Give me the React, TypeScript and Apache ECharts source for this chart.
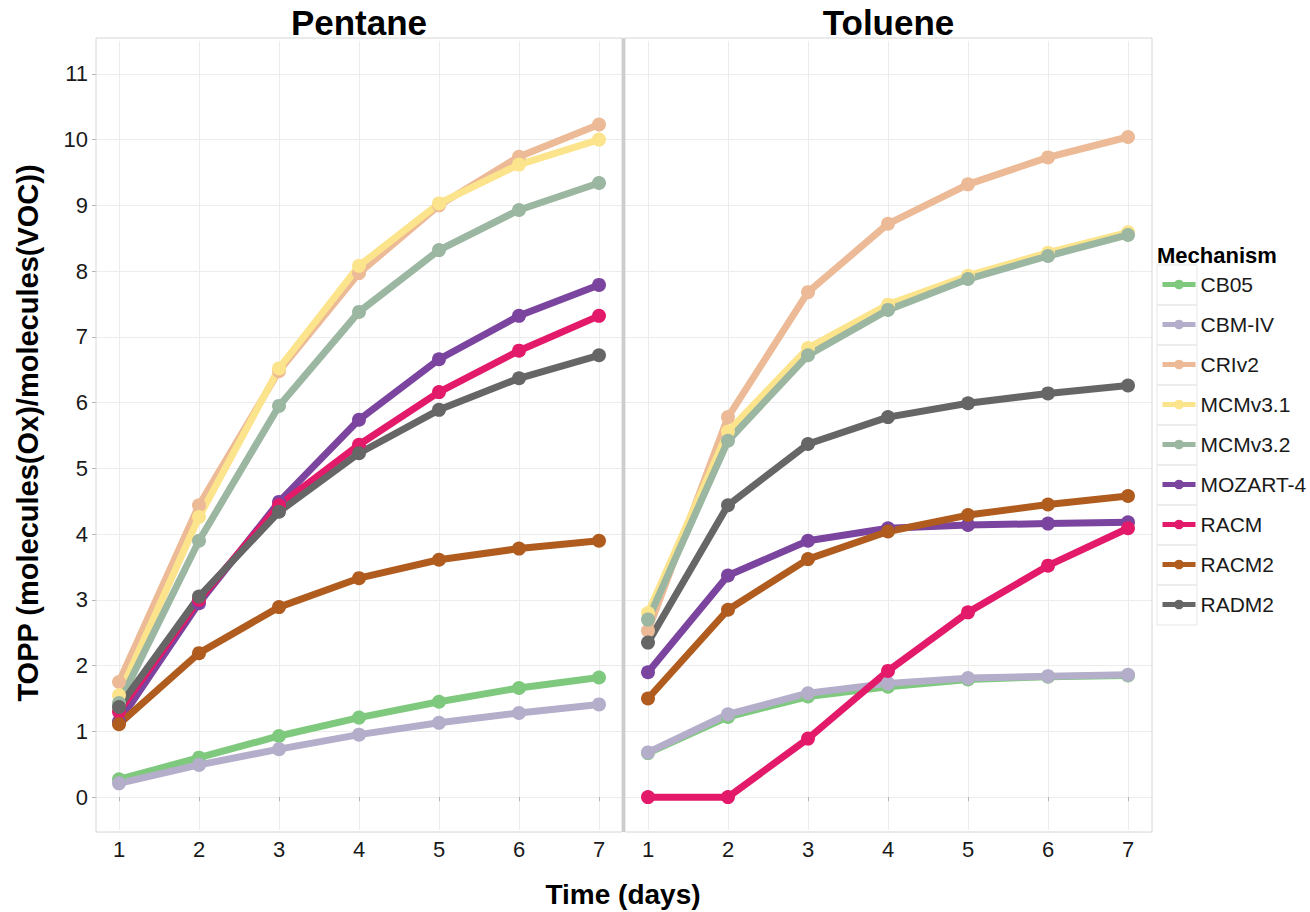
import React, { useEffect, useRef } from "react";
import * as echarts from "echarts";

const days = [1, 2, 3, 4, 5, 6, 7];
const mechanisms = ["CB05", "CBM-IV", "CRIv2", "MCMv3.1", "MCMv3.2", "MOZART-4", "RACM", "RACM2", "RADM2"];
const colors = ["#7FC97F", "#B4AECB", "#ECBA96", "#FCE48C", "#9BB6A1", "#7B449E", "#E31A6A", "#B15C1F", "#666666"];
const panels = ["Pentane", "Toluene"];
const yTicks = [0, 1, 2, 3, 4, 5, 6, 7, 8, 9, 10, 11];
const xTicks = [1, 2, 3, 4, 5, 6, 7];

// Pentane values by mechanism
const pentaneCB05 = [0.27, 0.6, 0.93, 1.21, 1.45, 1.66, 1.82];
const pentaneCBMIV = [0.21, 0.49, 0.73, 0.95, 1.13, 1.28, 1.41];
const pentaneCRIv2 = [1.75, 4.44, 6.48, 7.97, 9.0, 9.74, 10.23];
const pentaneMCMv31 = [1.55, 4.26, 6.52, 8.08, 9.03, 9.62, 10.0];
const pentaneMCMv32 = [1.43, 3.9, 5.95, 7.38, 8.32, 8.93, 9.34];
const pentaneMOZART4 = [1.15, 2.95, 4.49, 5.74, 6.66, 7.32, 7.79];
const pentaneRACM = [1.3, 3.0, 4.44, 5.36, 6.16, 6.79, 7.32];
const pentaneRACM2 = [1.11, 2.19, 2.89, 3.33, 3.61, 3.78, 3.9];
const pentaneRADM2 = [1.37, 3.05, 4.34, 5.23, 5.89, 6.37, 6.72];

// Toluene values by mechanism
const tolueneCB05 = [0.67, 1.22, 1.53, 1.68, 1.79, 1.83, 1.85];
const tolueneCBMIV = [0.68, 1.26, 1.58, 1.73, 1.81, 1.84, 1.86];
const tolueneCRIv2 = [2.53, 5.78, 7.68, 8.72, 9.32, 9.73, 10.04];
const tolueneMCMv31 = [2.8, 5.56, 6.83, 7.49, 7.93, 8.28, 8.59];
const tolueneMCMv32 = [2.7, 5.42, 6.72, 7.41, 7.88, 8.23, 8.55];
const tolueneMOZART4 = [1.9, 3.37, 3.9, 4.09, 4.14, 4.16, 4.18];
const tolueneRACM = [0.0, 0.0, 0.89, 1.92, 2.81, 3.52, 4.09];
const tolueneRACM2 = [1.5, 2.85, 3.62, 4.04, 4.29, 4.45, 4.58];
const tolueneRADM2 = [2.35, 4.44, 5.37, 5.78, 5.99, 6.14, 6.26];

const pentaneData = [pentaneCB05, pentaneCBMIV, pentaneCRIv2, pentaneMCMv31, pentaneMCMv32, pentaneMOZART4, pentaneRACM, pentaneRACM2, pentaneRADM2];
const tolueneData = [tolueneCB05, tolueneCBMIV, tolueneCRIv2, tolueneMCMv31, tolueneMCMv32, tolueneMOZART4, tolueneRACM, tolueneRACM2, tolueneRADM2];

const FONT = "'Liberation Sans', Arial, Helvetica, sans-serif";

export default function App() {
  const ref = useRef<HTMLDivElement>(null);

  useEffect(() => {
    if (!ref.current) return;
    const chart = echarts.init(ref.current, null, { renderer: "svg" });

    const panelBoxes = [
      { left: 96, width: 526 },
      { left: 625, width: 527 },
    ];
    const gridTop = 41;
    const gridHeight = 789;
    const grids: any[] = [];
    const xAxes: any[] = [];
    const yAxes: any[] = [];
    const gridColor = "#ececec";

    panelBoxes.forEach((p, i) => {
      grids.push({ left: p.left, width: p.width, top: gridTop, height: gridHeight });
      xAxes.push({ type: "value", gridIndex: i * 2, min: 0, max: 1, show: false });
      yAxes.push({
        type: "value",
        gridIndex: i * 2,
        min: -0.5,
        max: 11.5,
        interval: 0.5,
        axisLine: { show: false },
        axisTick: { show: i === 0, length: 4, lineStyle: { color: "#b3b3b3" }, customValues: yTicks },
        axisLabel: {
          show: i === 0,
          fontSize: 22,
          fontFamily: FONT,
          color: "#1a1a1a",
          margin: 8,
          formatter: (v: number) => (Number.isInteger(v) ? String(v) : ""),
        },
        splitLine: { show: true, lineStyle: { color: gridColor, width: 1 } },
      });
      grids.push({ left: p.left + 23, width: 480, top: gridTop, height: gridHeight });
      xAxes.push({
        type: "value",
        gridIndex: i * 2 + 1,
        min: 1,
        max: 7,
        interval: 0.5,
        offset: 2,
        axisLine: { show: false },
        axisTick: { show: true, length: 4, lineStyle: { color: "#b3b3b3" }, customValues: xTicks },
        axisLabel: {
          fontSize: 22,
          fontFamily: FONT,
          color: "#1a1a1a",
          margin: 6,
          formatter: (v: number) => (Number.isInteger(v) ? String(v) : ""),
        },
        splitLine: { show: true, lineStyle: { color: gridColor, width: 1 } },
      });
      yAxes.push({ type: "value", gridIndex: i * 2 + 1, min: -0.5, max: 11.5, show: false, splitLine: { show: false } });
    });

    const series: any[] = [];
    [pentaneData, tolueneData].forEach((panelData, pi) => {
      panelData.forEach((vals, mi) => {
        series.push({
          type: "line",
          name: mechanisms[mi],
          xAxisIndex: pi * 2 + 1,
          yAxisIndex: pi * 2 + 1,
          data: days.map((d, k) => [d, vals[k]]),
          symbol: "circle",
          symbolSize: 14,
          showSymbol: true,
          clip: false,
          lineStyle: { width: 7, color: colors[mi] },
          itemStyle: { color: colors[mi] },
          emphasis: { disabled: true },
        });
      });
    });

    const graphic: any[] = [];
    panelBoxes.forEach((p, i) => {
      graphic.push({
        type: "rect",
        shape: { x: p.left, y: 38, width: p.width, height: 794 },
        style: { fill: "transparent", stroke: "#d6d6d6", lineWidth: 1 },
        z: 1,
      });
      graphic.push({
        type: "text",
        x: p.left + p.width / 2,
        y: 22,
        style: {
          text: panels[i],
          font: `bold 35px ${FONT}`,
          fill: "#000",
          align: "center",
          verticalAlign: "middle",
        },
      });
    });
    graphic.push({
      type: "rect",
      shape: { x: 622, y: 38, width: 3, height: 794 },
      style: { fill: "#cdcdcd" },
      z: 2,
    });
    graphic.push({
      type: "text",
      x: 28,
      y: 433,
      rotation: Math.PI / 2,
      style: {
        text: "TOPP (molecules(Ox)/molecules(VOC))",
        font: `bold 29px ${FONT}`,
        fill: "#000",
        align: "center",
        verticalAlign: "middle",
      },
    });
    graphic.push({
      type: "text",
      x: 623,
      y: 894,
      style: {
        text: "Time (days)",
        font: `bold 28px ${FONT}`,
        fill: "#000",
        align: "center",
        verticalAlign: "middle",
      },
    });
    graphic.push({
      type: "text",
      x: 1157,
      y: 255,
      style: {
        text: "Mechanism",
        font: `bold 22px ${FONT}`,
        fill: "#000",
        align: "left",
        verticalAlign: "middle",
      },
    });
    mechanisms.forEach((_, i) => {
      graphic.push({
        type: "rect",
        shape: { x: 1157, y: 265 + 40 * i, width: 40, height: 40 },
        style: { fill: "transparent", stroke: "#e6e6e6", lineWidth: 1 },
        z: 0,
      });
    });

    chart.setOption({
      animation: false,
      backgroundColor: "#ffffff",
      grid: grids,
      xAxis: xAxes,
      yAxis: yAxes,
      series,
      legend: {
        data: mechanisms,
        orient: "vertical",
        left: 1160,
        top: 274,
        padding: 0,
        itemWidth: 33,
        itemHeight: 12,
        itemGap: 19,
        selectedMode: false,
        lineStyle: { width: 5 },
        textStyle: { fontSize: 21, lineHeight: 12, fontFamily: FONT, color: "#1a1a1a", padding: [0, 0, 0, 0] },
      },
      graphic,
    });

    return () => chart.dispose();
  }, []);

  return (
    <div
      ref={ref}
      style={{ position: "absolute", left: 0, top: 0, width: 1310, height: 912, background: "#fff" }}
    />
  );
}
